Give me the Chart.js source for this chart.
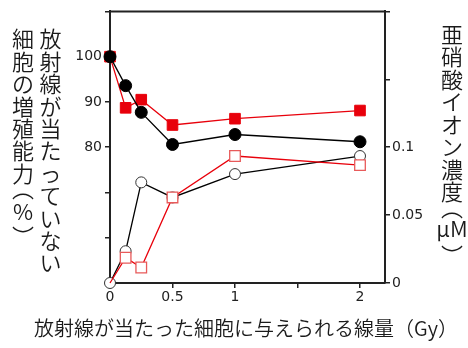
<!DOCTYPE html>
<html lang="ja">
<head>
<meta charset="utf-8">
<title>線量と増殖能力・亜硝酸イオン濃度</title>
<script src="https://cdn.jsdelivr.net/npm/chart.js@4.4.1/dist/chart.umd.min.js"></script>
<style>
  html, body { margin: 0; padding: 0; background: #ffffff; }
  #wrap { position: relative; width: 468px; height: 348px; }
</style>
</head>
<body>
<div id="wrap"><canvas id="chart" width="468" height="348"></canvas></div>
<script>
// Dose given to the irradiated cells (Gy)
const doses = [0, 0.125, 0.25, 0.5, 1, 2];

// Growth ability of non-irradiated cells (%), left axis
const growthBlack = [100, 93.6, 87.7, 80.6, 82.8, 81.2];
const growthRed   = [100, 88.7, 90.5, 84.9, 86.3, 88.1];

// Nitrite ion concentration (µM), right axis
const nitriteBlack = [0, 0.0234, 0.0741, 0.063, 0.0802, 0.0935];
const nitriteRed   = [0, 0.0186, 0.0114, 0.063, 0.0935, 0.0868];

// Tick values and the labels printed at them
const xTicks = [0, 0.5, 1, 1.5, 2];
const xTickLabels = ['0', '0.5', '1', '', '2'];
const yTicks = [50, 60, 70, 80, 90, 100, 110];
const yTickLabels = ['', '', '', '80', '90', '100', ''];
const y2Ticks = [0, 0.05, 0.1, 0.15, 0.2];
const y2TickLabels = ['0', '0.05', '0.1', '', ''];

// Axis titles
const leftTitleCols = ['放射線が当たっていない', '細胞の増殖能力（%）'];
const rightTitle = '亜硝酸イオン濃度（μM）';
const bottomTitle = '放射線が当たった細胞に与えられる線量（Gy）';

const toPoints = (xs, ys) => xs.map((x, i) => ({ x: x, y: ys[i] }));

const RED = '#e8000b';
const INK = '#1a1a1a';
const CJK = '"Noto Sans CJK JP", "Noto Sans", sans-serif';
const TITLE_WEIGHT = '350';

// Split a title into layout units: each CJK glyph alone, half-width runs grouped
const HALF = /[\x20-\x7e\u00b5\u03bc]/;
function splitUnits(str) {
  const units = [];
  let buf = '';
  for (const ch of str) {
    if (HALF.test(ch)) { buf += ch; }
    else { if (buf) { units.push(buf); buf = ''; } units.push(ch); }
  }
  if (buf) units.push(buf);
  return units;
}

// Brackets take their vertical presentation forms in a vertical column
const VERTICAL_FORM = { '（': '\uFE35', '）': '\uFE36' };
const unitKind = (u) => u === '（' ? 'open' : u === '）' ? 'close' : HALF.test(u[0]) ? 'half' : 'cjk';

// Distance between the centres of two neighbouring units in a column
function unitGap(prev, cur, adv) {
  if (cur === 'open') return 23;
  if (prev === 'open') return 16;
  if (cur === 'close') return 17;
  return adv;
}

// Vertical (top-to-bottom) title starting with its first glyph centred at firstY
function drawVertical(ctx, str, cx, firstY, em, adv) {
  ctx.save();
  ctx.fillStyle = INK;
  ctx.font = TITLE_WEIGHT + ' ' + em + 'px ' + CJK;
  ctx.textAlign = 'center';
  let y = firstY;
  let prev = null;
  for (const u of splitUnits(str)) {
    const kind = unitKind(u);
    if (prev) y += unitGap(prev, kind, adv);
    const glyph = VERTICAL_FORM[u] || u;
    if (kind === 'cjk') {
      ctx.textBaseline = 'middle';
      ctx.fillText(glyph, cx, y);
    } else {
      // centre the ink of brackets and upright half-width runs
      ctx.textBaseline = 'alphabetic';
      const m = ctx.measureText(glyph);
      const a = m.actualBoundingBoxAscent, d = m.actualBoundingBoxDescent;
      ctx.fillText(glyph, cx, y + (a - d) / 2);
    }
    prev = kind;
  }
  ctx.restore();
}

const titlesPlugin = {
  id: 'titles',
  afterDraw(chart) {
    const ctx = chart.ctx;
    const a = chart.chartArea;
    // top edge of the frame
    ctx.save();
    ctx.strokeStyle = '#222';
    ctx.lineWidth = 2;
    ctx.beginPath();
    ctx.moveTo(a.left - 1, a.top);
    ctx.lineTo(a.right + 1, a.top);
    ctx.stroke();
    ctx.restore();

    drawVertical(ctx, leftTitleCols[0], 50.5, 39, 22, 22.4);
    drawVertical(ctx, leftTitleCols[1], 23, 39, 22, 22.4);
    drawVertical(ctx, rightTitle, 452, 34.5, 22, 22.5);

    ctx.save();
    ctx.fillStyle = INK;
    ctx.font = TITLE_WEIGHT + ' 20px ' + CJK;
    ctx.textAlign = 'center';
    ctx.textBaseline = 'middle';
    ctx.fillText(bottomTitle, 246, 328);
    ctx.restore();
  }
};

const fixedTicks = (values) => (scale) => {
  scale.ticks = values.map(v => ({ value: v }));
};

const tickFont = { family: '"DejaVu Sans", Verdana, sans-serif', size: 14 };
const gridOpts = { drawOnChartArea: false, drawTicks: true, tickLength: 5, color: '#222', lineWidth: 1.5 };
const borderOpts = { display: true, color: '#222', width: 2 };

new Chart(document.getElementById('chart'), {
  type: 'line',
  data: {
    datasets: [
      {
        label: '増殖能力（●）',
        data: toPoints(doses, growthBlack),
        yAxisID: 'y',
        borderColor: '#000',
        borderWidth: 1.3,
        pointStyle: 'circle',
        pointRadius: 6,
        pointBackgroundColor: '#000',
        pointBorderColor: '#000',
        pointBorderWidth: 1,
        clip: false
      },
      {
        label: '増殖能力（■）',
        data: toPoints(doses, growthRed),
        yAxisID: 'y',
        borderColor: RED,
        borderWidth: 1.3,
        pointStyle: 'rect',
        pointRadius: 7.5,
        pointBackgroundColor: RED,
        pointBorderColor: RED,
        pointBorderWidth: 1,
        clip: false
      },
      {
        label: '亜硝酸イオン濃度（□）',
        data: toPoints(doses, nitriteRed),
        yAxisID: 'y2',
        borderColor: RED,
        borderWidth: 1.3,
        pointStyle: 'rect',
        pointRadius: [0, 7.5, 7.5, 7.5, 7.5, 7.5],
        pointBackgroundColor: '#fff',
        pointBorderColor: '#e85a5a',
        pointBorderWidth: 1.3,
        clip: false
      },
      {
        label: '亜硝酸イオン濃度（○）',
        data: toPoints(doses, nitriteBlack),
        yAxisID: 'y2',
        borderColor: '#000',
        borderWidth: 1.3,
        pointStyle: 'circle',
        pointRadius: 5.5,
        pointBackgroundColor: '#fff',
        pointBorderColor: '#333',
        pointBorderWidth: 1,
        clip: false
      }
    ]
  },
  options: {
    responsive: false,
    animation: false,
    layout: { padding: { top: 8, left: 0, right: 0, bottom: 0 } },
    plugins: { legend: { display: false }, tooltip: { enabled: false } },
    elements: { line: { tension: 0 } },
    scales: {
      x: {
        type: 'linear',
        position: 'bottom',
        min: 0,
        max: 2.2,
        afterBuildTicks: fixedTicks(xTicks),
        afterFit: (s) => { s.height = 65; },
        grid: gridOpts,
        border: borderOpts,
        ticks: {
          font: tickFont,
          color: '#222',
          padding: 1,
          maxRotation: 0,
          autoSkip: false,
          callback: (v, i) => xTickLabels[i]
        }
      },
      y: {
        type: 'linear',
        position: 'left',
        min: 50,
        max: 110,
        afterBuildTicks: fixedTicks(yTicks),
        afterFit: (s) => { s.width = 110; },
        grid: gridOpts,
        border: borderOpts,
        ticks: {
          font: tickFont,
          color: '#222',
          padding: 3,
          autoSkip: false,
          callback: (v, i) => yTickLabels[i]
        }
      },
      y2: {
        type: 'linear',
        position: 'right',
        min: 0,
        max: 0.2,
        afterBuildTicks: fixedTicks(y2Ticks),
        afterFit: (s) => { s.width = 83; },
        grid: gridOpts,
        border: borderOpts,
        ticks: {
          font: tickFont,
          color: '#222',
          padding: 2,
          autoSkip: false,
          callback: (v, i) => y2TickLabels[i]
        }
      }
    }
  },
  plugins: [titlesPlugin]
});
</script>
</body>
</html>
